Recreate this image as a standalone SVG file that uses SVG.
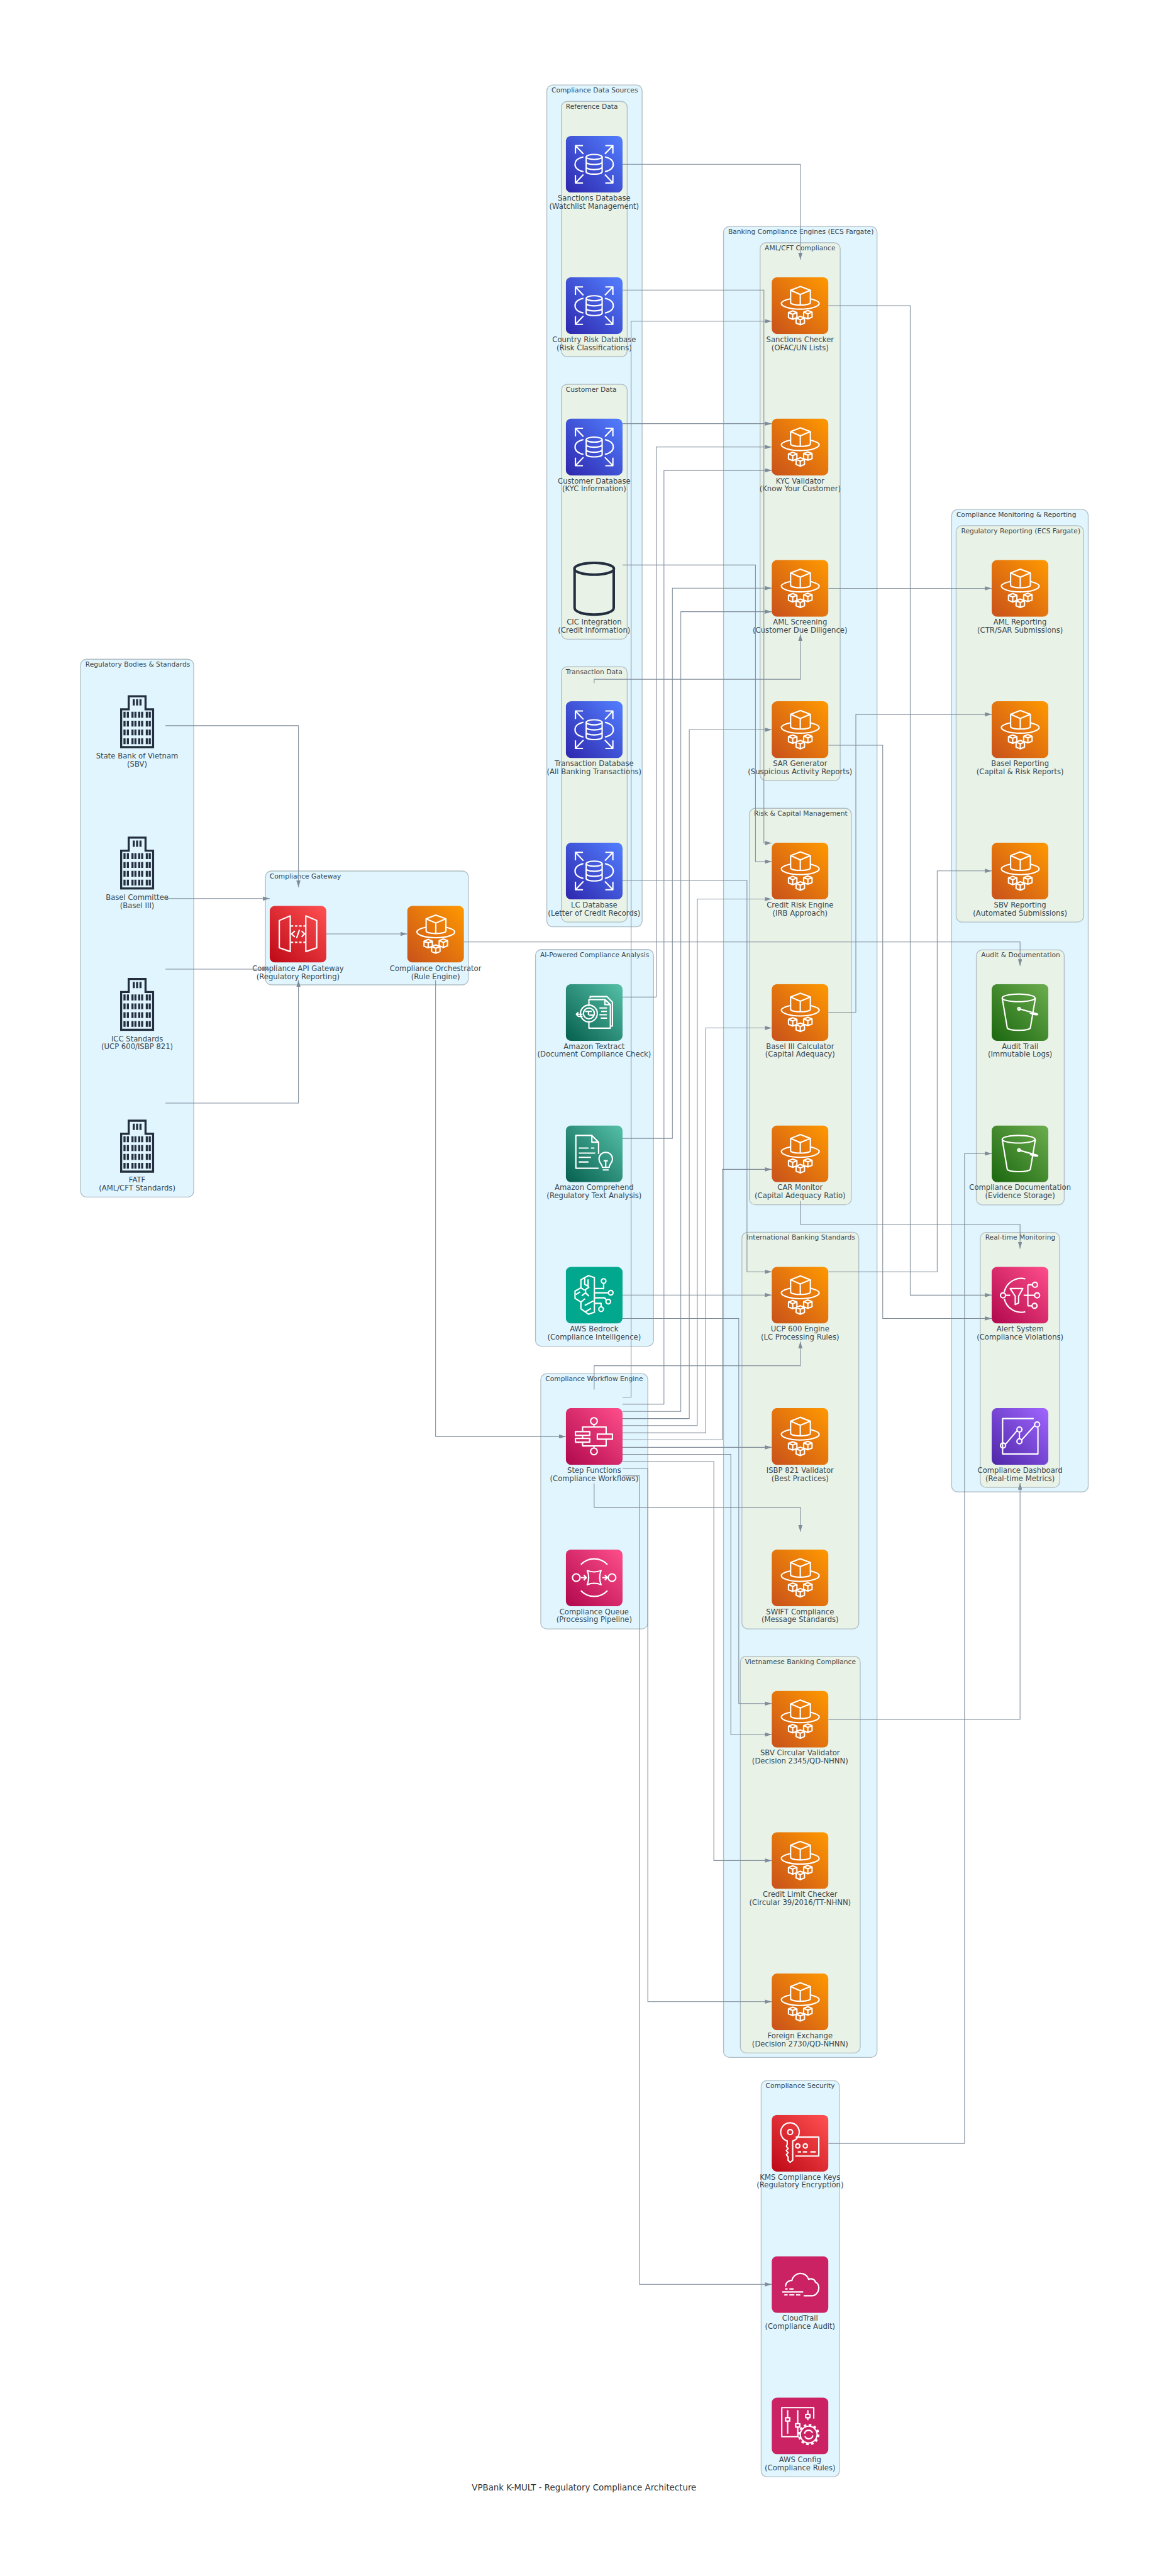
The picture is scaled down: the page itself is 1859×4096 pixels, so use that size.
<svg xmlns="http://www.w3.org/2000/svg" width="1859" height="4096" viewBox="0 0 1859 4096">
<style>
text{font-family:"DejaVu Sans","Liberation Sans",sans-serif;fill:#37474f}
.l{font-size:17.4px;text-anchor:middle}
.c{font-size:16px}
.g{fill:#e1f5fe;stroke:#b0bec5;stroke-width:2}
.s{fill:#e9f2e7;stroke:#b0bec5;stroke-width:2}
.e{fill:none;stroke:#7f8c99;stroke-width:1.6;marker-end:url(#a)}
.w{fill:none;stroke:#fff;stroke-width:3.2;stroke-linejoin:round}
.d{fill:none;stroke:#232f3e;stroke-width:5}
</style>
<defs>
<marker id="a" markerUnits="userSpaceOnUse" markerWidth="16" markerHeight="10" refX="16" refY="5" orient="auto"><path d="M0 0L16 5L0 10z" fill="#7f8c99"/></marker>
<linearGradient id="go" x1="0" y1="1" x2="1" y2="0"><stop offset="0" stop-color="#c8511b"/><stop offset="1" stop-color="#f90"/></linearGradient>
<linearGradient id="gb" x1="0" y1="1" x2="1" y2="0"><stop offset="0" stop-color="#2e27ad"/><stop offset="1" stop-color="#527fff"/></linearGradient>
<linearGradient id="gr" x1="0" y1="1" x2="1" y2="0"><stop offset="0" stop-color="#bd0816"/><stop offset="1" stop-color="#ff5252"/></linearGradient>
<linearGradient id="gt" x1="0" y1="1" x2="1" y2="0"><stop offset="0" stop-color="#055f4e"/><stop offset="1" stop-color="#56c0a7"/></linearGradient>
<linearGradient id="gp" x1="0" y1="1" x2="1" y2="0"><stop offset="0" stop-color="#b0084d"/><stop offset="1" stop-color="#ff4f8b"/></linearGradient>
<linearGradient id="gg" x1="0" y1="1" x2="1" y2="0"><stop offset="0" stop-color="#1b660f"/><stop offset="1" stop-color="#6cae4e"/></linearGradient>
<linearGradient id="gv" x1="0" y1="1" x2="1" y2="0"><stop offset="0" stop-color="#4d27a8"/><stop offset="1" stop-color="#a166ff"/></linearGradient>
<path id="mini" d="M0 -10L10 -6V6L0 10L-10 6V-6zM-10 -6L0 -2L10 -6M0 -2V10"/>
<symbol id="fargate" viewBox="0 0 135 135"><rect width="135" height="135" rx="13" fill="url(#go)"/><g class="w"><path d="M68 22L92 31V60C92 68 45 68 45 60V31zM45 31L68 41L92 31M68 41V66"/><path d="M45 51C32 54 23 58 23 62C23 70 44 76 68 76S113 70 113 62C113 58 104 54 92 51"/><use href="#mini" x="50" y="90"/><use href="#mini" x="86" y="89"/><use href="#mini" x="68" y="103"/></g></symbol>
<symbol id="rds" viewBox="0 0 135 135"><rect width="135" height="135" rx="13" fill="url(#gb)"/><g class="w"><path d="M23 42V23H41M23 23L42 43M112 42V23H94M112 23L93 43M23 93V112H41M23 112L42 92M112 93V112H94M112 112L93 92"/><path d="M42 50C28 53 22 60 22 67.500S28 82 42 85M93 50C107 53 113 60 113 67.500S107 82 93 85"/><ellipse cx="67.500" cy="50" rx="19" ry="6"/><path d="M48.500 50V85C48.500 93 86.500 93 86.500 85V50M48.500 62C48.500 70 86.500 70 86.500 62M48.500 74C48.500 82 86.500 82 86.500 74"/></g></symbol>
<symbol id="apigw" viewBox="0 0 135 135"><rect width="135" height="135" rx="13" fill="url(#gr)"/><g class="w"><path d="M23 35L49 24V109L23 100zM112 35L86 24V109L112 100z"/><path d="M50 48H86M50 87H86" stroke-dasharray="6 4"/><path d="M60 60L52 67L60 74M76 60L83 67L76 74M71 57L64 77"/></g></symbol>
<symbol id="building" viewBox="0 0 82 127"><path class="d" d="M3 34H21V3H61V34H79V124H3z"/><g class="d"><path d="M33 10v15M41 10v15M49 10v15"/><path d="M11 40v14M19 40v14M30 40v14M37 40v14M46 40v14M53 40v14M64 40v14M71 40v14"/><path d="M11 61v14M19 61v14M30 61v14M37 61v14M46 61v14M53 61v14M64 61v14M71 61v14"/><path d="M11 82v14M19 82v14M30 82v14M37 82v14M46 82v14M53 82v14M64 82v14M71 82v14"/><path d="M11 103v14M19 103v14M30 103v14M37 103v14M46 103v14M53 103v14M64 103v14M71 103v14"/></g></symbol>
<symbol id="textract" viewBox="0 0 135 135"><rect width="135" height="135" rx="13" fill="url(#gt)"/><g class="w"><path d="M58 34V30H98L111 43V100H105"/><path d="M55 52V37H93L106 49V105H55V88M93 37V49H106"/><circle cx="55" cy="70" r="20"/><circle cx="55" cy="70" r="13"/><path d="M46 65H62M54 65V74M56 74H68M80 57H98M84 65H98M80 73H98M83 81H98M26 72H40M30 77H40M30 67L25 72L30 77"/></g></symbol>
<symbol id="comprehend" viewBox="0 0 135 135"><rect width="135" height="135" rx="13" fill="url(#gt)"/><g class="w"><path d="M78 68V40L62 24H24V102H78M62 24V40H78M31 54H54M60 54H68M31 66H70M31 76H60M31 87H54"/><path d="M87 100C87 92 79 90 79 80C79 71 86 64 95 64S111 71 111 80C111 90 103 92 103 100zM88 106H102M95 100V84M90 84H100"/></g></symbol>
<symbol id="bedrock" viewBox="0 0 135 135"><rect width="135" height="135" rx="13" fill="#01a88d"/><g class="w"><path d="M54 21L68 26V108L54 113L36 100V84L22 75V58L36 50V31zM45 26V42L53 46V30M36 50L45 56M24 66L34 60M38 69L47 62L55 70M47 62V54L56 48M36 84L46 76M45 92L68 80M47 107L60 99"/><circle cx="90" cy="34" r="5.500"/><circle cx="107" cy="62" r="5.500"/><circle cx="101" cy="83" r="5.500"/><circle cx="84" cy="101" r="5.500"/><path d="M68 52H90V40M68 62H101M68 74H90C93 74 95 76 96 79M68 87H84V95"/></g></symbol>
<symbol id="step" viewBox="0 0 135 135"><rect width="135" height="135" rx="13" fill="url(#gp)"/><g class="w"><circle cx="67" cy="31" r="8"/><circle cx="67" cy="103" r="8"/><rect x="23" y="56" width="34" height="9"/><rect x="23" y="72" width="34" height="9"/><rect x="75" y="62" width="36" height="12"/><path d="M40 56V45H96V62M40 81V90H96V74M67 39V45M67 90V95M40 65V72"/></g></symbol>
<symbol id="sqs" viewBox="0 0 135 135"><rect width="135" height="135" rx="13" fill="url(#gp)"/><g class="w"><circle cx="25" cy="67" r="9"/><circle cx="110" cy="67" r="9"/><path d="M36 36A43 43 0 0 1 99 36M36 98A43 43 0 0 0 99 98"/><path d="M51 50Q67.500 57 84 50Q77 67 84 84Q67.500 77 51 84Q58 67 51 50z"/><path d="M36 67H48M43 61L49 67L43 73M87 67H99M93 61L99 67L93 73"/></g></symbol>
<symbol id="s3" viewBox="0 0 135 135"><rect width="135" height="135" rx="13" fill="url(#gg)"/><g class="w"><ellipse cx="64" cy="33" rx="39" ry="9"/><path d="M25 33L37 104C38 112 91 112 92 104L104 33"/><circle cx="65" cy="59" r="3"/><path d="M65 59L108 71C114 74 100 74 91 69"/></g></symbol>
<symbol id="sns" viewBox="0 0 135 135"><rect width="135" height="135" rx="13" fill="url(#gp)"/><g class="w"><path d="M80 29A41 41 0 0 0 30 60M30 76A41 41 0 0 0 80 107"/><circle cx="27" cy="68" r="6"/><circle cx="103" cy="43" r="6"/><circle cx="108" cy="68" r="6"/><circle cx="102" cy="93" r="6"/><path d="M33 68H44M76 68H101M86 43V93M86 43H97M86 93H96"/><path d="M44 52H74L64 70V86L56 90V70z"/></g></symbol>
<symbol id="quicksight" viewBox="0 0 135 135"><rect width="135" height="135" rx="13" fill="url(#gv)"/><g class="w"><path d="M100 25H26V109H110V46"/><circle cx="27" cy="89" r="6"/><circle cx="66" cy="51" r="6"/><circle cx="66" cy="79" r="6"/><circle cx="108" cy="39" r="6"/><path d="M33 86L60 54M66 57V73M71 76L102 42" stroke-width="3"/></g></symbol>
<symbol id="kms" viewBox="0 0 135 135"><rect width="135" height="135" rx="13" fill="url(#gr)"/><g class="w"><circle cx="44" cy="41" r="6"/><path d="M37 62A22 22 0 1 1 50 62V108L44 113L39 108V100L35 95L39 90L35 85L39 80L35 75L37 70z"/><path d="M57 53H112V98H56M62 88H70M74 88H84M92 88H105"/><circle cx="62" cy="74" r="5"/><circle cx="80" cy="74" r="5"/></g></symbol>
<symbol id="cloudtrail" viewBox="0 0 135 135"><rect width="135" height="135" rx="13" fill="#cb2264"/><g class="w"><path d="M33 72C33 62 42 57 48 58C50 47 60 41 68 41C78 41 85 47 88 55C94 52 103 55 104 62C110 64 112 70 112 75C112 85 105 94 96 94H76"/><path d="M32 78H38M42 78H52M25 85H75M30 92H38M42 92H54M58 92H68"/></g></symbol>
<symbol id="config" viewBox="0 0 135 135"><rect width="135" height="135" rx="13" fill="#cb2264"/><g class="w"><path d="M65 93H24V24H100V50"/><path d="M38 30V48M38 56V86M62 30V62M62 70V92M86 30V40M86 48V54"/><rect x="33" y="48" width="10" height="8"/><rect x="57" y="62" width="10" height="8"/><rect x="81" y="40" width="10" height="8"/><circle cx="88" cy="88" r="20"/><circle cx="88" cy="88" r="23" stroke-width="5" stroke-dasharray="6 6"/><path d="M78 86A10 10 0 0 1 97 84M98 90A10 10 0 0 1 79 92"/></g></symbol>
</defs>
<g transform="scale(0.66893)">
<g id="clusters">
<g id="cluster-regulatory"><rect class="g" x="191.500" y="1567" width="269" height="1278.500" rx="14"/><text class="c" x="203" y="1585">Regulatory Bodies &amp; Standards</text></g>
<g id="cluster-gateway"><rect class="g" x="631" y="2070.500" width="482.500" height="270.500" rx="14"/><text class="c" x="641" y="2089">Compliance Gateway</text></g>
<g id="cluster-data"><rect class="g" x="1300" y="202" width="226.500" height="2001" rx="14"/><text class="c" x="1311" y="220">Compliance Data Sources</text></g>
<g id="cluster-reference"><rect class="s" x="1334.500" y="241" width="156.500" height="607" rx="14"/><text class="c" x="1345" y="259">Reference Data</text></g>
<g id="cluster-customer"><rect class="s" x="1334.500" y="913.500" width="156.500" height="606" rx="14"/><text class="c" x="1345" y="931">Customer Data</text></g>
<g id="cluster-transaction"><rect class="s" x="1334.500" y="1584.700" width="156.500" height="607" rx="14"/><text class="c" x="1345" y="1602.500">Transaction Data</text></g>
<g id="cluster-ai"><rect class="g" x="1273" y="2257" width="280.700" height="943" rx="14"/><text class="c" x="1284" y="2275">AI-Powered Compliance Analysis</text></g>
<g id="cluster-workflow"><rect class="g" x="1285.600" y="3265" width="254.400" height="607" rx="14"/><text class="c" x="1296.500" y="3283">Compliance Workflow Engine</text></g>
<g id="cluster-engines"><rect class="g" x="1720" y="538.400" width="365" height="4352" rx="14"/><text class="c" x="1731" y="556">Banking Compliance Engines (ECS Fargate)</text></g>
<g id="cluster-aml"><rect class="s" x="1807" y="577" width="190.400" height="1278.700" rx="14"/><text class="c" x="1818" y="594.500">AML/CFT Compliance</text></g>
<g id="cluster-risk"><rect class="s" x="1781.600" y="1921.400" width="242.200" height="942.300" rx="14"/><text class="c" x="1792.500" y="1939">Risk &amp; Capital Management</text></g>
<g id="cluster-intl"><rect class="s" x="1763.800" y="2929" width="277.800" height="943" rx="14"/><text class="c" x="1775" y="2947">International Banking Standards</text></g>
<g id="cluster-vn"><rect class="s" x="1760" y="3937" width="285" height="943" rx="14"/><text class="c" x="1771" y="3955">Vietnamese Banking Compliance</text></g>
<g id="cluster-monitoring"><rect class="g" x="2262.400" y="1211" width="324.600" height="2335.400" rx="14"/><text class="c" x="2273.600" y="1229">Compliance Monitoring &amp; Reporting</text></g>
<g id="cluster-reporting"><rect class="s" x="2273" y="1249.600" width="303" height="942.100" rx="14"/><text class="c" x="2285" y="1267">Regulatory Reporting (ECS Fargate)</text></g>
<g id="cluster-audit"><rect class="s" x="2321" y="2258" width="209" height="606" rx="14"/><text class="c" x="2332.500" y="2275">Audit &amp; Documentation</text></g>
<g id="cluster-realtime"><rect class="s" x="2330.400" y="2929.500" width="188.600" height="606.200" rx="14"/><text class="c" x="2342" y="2947">Real-time Monitoring</text></g>
<g id="cluster-security"><rect class="g" x="1809.500" y="4945.400" width="185.900" height="942.100" rx="14"/><text class="c" x="1820" y="4963">Compliance Security</text></g>
</g>
<g id="nodes">
<g id="n-sbv"><use href="#building" x="285" y="1652" width="82" height="127"/><text class="l"><tspan x="326" y="1803">State Bank of Vietnam</tspan><tspan x="326" y="1822">(SBV)</tspan></text></g>
<g id="n-basel"><use href="#building" x="285" y="1988" width="82" height="127"/><text class="l"><tspan x="326" y="2139">Basel Committee</tspan><tspan x="326" y="2158">(Basel III)</tspan></text></g>
<g id="n-icc"><use href="#building" x="285" y="2324" width="82" height="127"/><text class="l"><tspan x="326" y="2475">ICC Standards</tspan><tspan x="326" y="2494">(UCP 600/ISBP 821)</tspan></text></g>
<g id="n-fatf"><use href="#building" x="285" y="2661" width="82" height="127"/><text class="l"><tspan x="326" y="2811">FATF</tspan><tspan x="326" y="2830">(AML/CFT Standards)</tspan></text></g>
<g id="n-apigw"><use href="#apigw" x="641" y="2153" width="135" height="135"/><text class="l"><tspan x="708.500" y="2308">Compliance API Gateway</tspan><tspan x="708.500" y="2327">(Regulatory Reporting)</tspan></text></g>
<g id="n-orch"><use href="#fargate" x="968" y="2153" width="135" height="135"/><text class="l"><tspan x="1035.500" y="2308">Compliance Orchestrator</tspan><tspan x="1035.500" y="2327">(Rule Engine)</tspan></text></g>
<g id="n-sanctions-db"><use href="#rds" x="1345" y="323" width="135" height="135"/><text class="l"><tspan x="1412.500" y="477">Sanctions Database</tspan><tspan x="1412.500" y="496">(Watchlist Management)</tspan></text></g>
<g id="n-country-db"><use href="#rds" x="1345" y="659" width="135" height="135"/><text class="l"><tspan x="1412.500" y="813">Country Risk Database</tspan><tspan x="1412.500" y="832">(Risk Classifications)</tspan></text></g>
<g id="n-customer-db"><use href="#rds" x="1345" y="995" width="135" height="135"/><text class="l"><tspan x="1412.500" y="1149">Customer Database</tspan><tspan x="1412.500" y="1168">(KYC Information)</tspan></text></g>
<g id="n-cic"><path d="M1366 1352V1445C1366 1466 1459 1466 1459 1445V1352" fill="none" stroke="#232f3e" stroke-width="6"/><ellipse cx="1412.500" cy="1352" rx="47" ry="14" fill="none" stroke="#232f3e" stroke-width="6"/><text class="l"><tspan x="1412.500" y="1485">CIC Integration</tspan><tspan x="1412.500" y="1504">(Credit Information)</tspan></text></g>
<g id="n-tx-db"><use href="#rds" x="1345" y="1667" width="135" height="135"/><text class="l"><tspan x="1412.500" y="1821">Transaction Database</tspan><tspan x="1412.500" y="1840">(All Banking Transactions)</tspan></text></g>
<g id="n-lc-db"><use href="#rds" x="1345" y="2003" width="135" height="135"/><text class="l"><tspan x="1412.500" y="2157">LC Database</tspan><tspan x="1412.500" y="2176">(Letter of Credit Records)</tspan></text></g>
<g id="n-textract"><use href="#textract" x="1345" y="2339" width="135" height="135"/><text class="l"><tspan x="1412.500" y="2493">Amazon Textract</tspan><tspan x="1412.500" y="2512">(Document Compliance Check)</tspan></text></g>
<g id="n-comprehend"><use href="#comprehend" x="1345" y="2675" width="135" height="135"/><text class="l"><tspan x="1412.500" y="2829">Amazon Comprehend</tspan><tspan x="1412.500" y="2848">(Regulatory Text Analysis)</tspan></text></g>
<g id="n-bedrock"><use href="#bedrock" x="1345" y="3011" width="135" height="135"/><text class="l"><tspan x="1412.500" y="3165">AWS Bedrock</tspan><tspan x="1412.500" y="3184">(Compliance Intelligence)</tspan></text></g>
<g id="n-step"><use href="#step" x="1345" y="3347" width="135" height="135"/><text class="l"><tspan x="1412.500" y="3501">Step Functions</tspan><tspan x="1412.500" y="3520">(Compliance Workflows)</tspan></text></g>
<g id="n-queue"><use href="#sqs" x="1345" y="3683" width="135" height="135"/><text class="l"><tspan x="1412.500" y="3837">Compliance Queue</tspan><tspan x="1412.500" y="3856">(Processing Pipeline)</tspan></text></g>
<g id="n-sanctions"><use href="#fargate" x="1834.500" y="659" width="135" height="135"/><text class="l"><tspan x="1902" y="813">Sanctions Checker</tspan><tspan x="1902" y="832">(OFAC/UN Lists)</tspan></text></g>
<g id="n-kyc"><use href="#fargate" x="1834.500" y="995" width="135" height="135"/><text class="l"><tspan x="1902" y="1149">KYC Validator</tspan><tspan x="1902" y="1168">(Know Your Customer)</tspan></text></g>
<g id="n-aml"><use href="#fargate" x="1834.500" y="1331" width="135" height="135"/><text class="l"><tspan x="1902" y="1485">AML Screening</tspan><tspan x="1902" y="1504">(Customer Due Diligence)</tspan></text></g>
<g id="n-sar"><use href="#fargate" x="1834.500" y="1667" width="135" height="135"/><text class="l"><tspan x="1902" y="1821">SAR Generator</tspan><tspan x="1902" y="1840">(Suspicious Activity Reports)</tspan></text></g>
<g id="n-credit"><use href="#fargate" x="1834.500" y="2003" width="135" height="135"/><text class="l"><tspan x="1902" y="2157">Credit Risk Engine</tspan><tspan x="1902" y="2176">(IRB Approach)</tspan></text></g>
<g id="n-basel3"><use href="#fargate" x="1834.500" y="2339" width="135" height="135"/><text class="l"><tspan x="1902" y="2493">Basel III Calculator</tspan><tspan x="1902" y="2512">(Capital Adequacy)</tspan></text></g>
<g id="n-car"><use href="#fargate" x="1834.500" y="2675" width="135" height="135"/><text class="l"><tspan x="1902" y="2829">CAR Monitor</tspan><tspan x="1902" y="2848">(Capital Adequacy Ratio)</tspan></text></g>
<g id="n-ucp"><use href="#fargate" x="1834.500" y="3011" width="135" height="135"/><text class="l"><tspan x="1902" y="3165">UCP 600 Engine</tspan><tspan x="1902" y="3184">(LC Processing Rules)</tspan></text></g>
<g id="n-isbp"><use href="#fargate" x="1834.500" y="3347" width="135" height="135"/><text class="l"><tspan x="1902" y="3501">ISBP 821 Validator</tspan><tspan x="1902" y="3520">(Best Practices)</tspan></text></g>
<g id="n-swift"><use href="#fargate" x="1834.500" y="3683" width="135" height="135"/><text class="l"><tspan x="1902" y="3837">SWIFT Compliance</tspan><tspan x="1902" y="3856">(Message Standards)</tspan></text></g>
<g id="n-sbvc"><use href="#fargate" x="1834.500" y="4019" width="135" height="135"/><text class="l"><tspan x="1902" y="4173">SBV Circular Validator</tspan><tspan x="1902" y="4192">(Decision 2345/QD-NHNN)</tspan></text></g>
<g id="n-limit"><use href="#fargate" x="1834.500" y="4355" width="135" height="135"/><text class="l"><tspan x="1902" y="4509">Credit Limit Checker</tspan><tspan x="1902" y="4528">(Circular 39/2016/TT-NHNN)</tspan></text></g>
<g id="n-fx"><use href="#fargate" x="1834.500" y="4691" width="135" height="135"/><text class="l"><tspan x="1902" y="4845">Foreign Exchange</tspan><tspan x="1902" y="4864">(Decision 2730/QD-NHNN)</tspan></text></g>
<g id="n-amlr"><use href="#fargate" x="2357.500" y="1331" width="135" height="135"/><text class="l"><tspan x="2425" y="1485">AML Reporting</tspan><tspan x="2425" y="1504">(CTR/SAR Submissions)</tspan></text></g>
<g id="n-baselr"><use href="#fargate" x="2357.500" y="1667" width="135" height="135"/><text class="l"><tspan x="2425" y="1821">Basel Reporting</tspan><tspan x="2425" y="1840">(Capital &amp; Risk Reports)</tspan></text></g>
<g id="n-sbvr"><use href="#fargate" x="2357.500" y="2003" width="135" height="135"/><text class="l"><tspan x="2425" y="2157">SBV Reporting</tspan><tspan x="2425" y="2176">(Automated Submissions)</tspan></text></g>
<g id="n-audit"><use href="#s3" x="2357.500" y="2339" width="135" height="135"/><text class="l"><tspan x="2425" y="2493">Audit Trail</tspan><tspan x="2425" y="2512">(Immutable Logs)</tspan></text></g>
<g id="n-docs"><use href="#s3" x="2357.500" y="2675" width="135" height="135"/><text class="l"><tspan x="2425" y="2829">Compliance Documentation</tspan><tspan x="2425" y="2848">(Evidence Storage)</tspan></text></g>
<g id="n-alert"><use href="#sns" x="2357.500" y="3011" width="135" height="135"/><text class="l"><tspan x="2425" y="3165">Alert System</tspan><tspan x="2425" y="3184">(Compliance Violations)</tspan></text></g>
<g id="n-dash"><use href="#quicksight" x="2357.500" y="3347" width="135" height="135"/><text class="l"><tspan x="2425" y="3501">Compliance Dashboard</tspan><tspan x="2425" y="3520">(Real-time Metrics)</tspan></text></g>
<g id="n-kms"><use href="#kms" x="1834.500" y="5027" width="135" height="135"/><text class="l"><tspan x="1902" y="5181">KMS Compliance Keys</tspan><tspan x="1902" y="5200">(Regulatory Encryption)</tspan></text></g>
<g id="n-cloudtrail"><use href="#cloudtrail" x="1834.500" y="5363" width="135" height="135"/><text class="l"><tspan x="1902" y="5517">CloudTrail</tspan><tspan x="1902" y="5536">(Compliance Audit)</tspan></text></g>
<g id="n-config"><use href="#config" x="1834.500" y="5699" width="135" height="135"/><text class="l"><tspan x="1902" y="5853">AWS Config</tspan><tspan x="1902" y="5872">(Compliance Rules)</tspan></text></g>
</g>
<g id="connectors">
<path class="e" d="M393.500 1725H709.500V2109"/>
<path class="e" d="M393.500 2136H641"/>
<path class="e" d="M393.500 2303.600H641"/>
<path class="e" d="M393.500 2622H709.500V2330"/>
<path class="e" d="M776 2220H968"/>
<path class="e" d="M1103 2239H2425V2296"/>
<path class="e" d="M1035.500 2330V3414.600H1345"/>
<path class="e" d="M1480 390.500H1902.700V617"/>
<path class="e" d="M1480 689.600H1816V2004H1834.500"/>
<path class="e" d="M1480 3321H1500.300V763.500H1834.500"/>
<path class="e" d="M1480 1007H1834.500"/>
<path class="e" d="M1480 2370H1560V1062.600H1834.500"/>
<path class="e" d="M1480 3337.600H1578.400V1118H1834.500"/>
<path class="e" d="M1480 1343H1796V2048H1834.500"/>
<path class="e" d="M1480 2706H1598.500V1398H1834.500"/>
<path class="e" d="M1480 3355H1618.500V1454H1834.500"/>
<path class="e" d="M1412.500 1624V1614.700H1902.700V1508"/>
<path class="e" d="M1480 3372H1638.600V1734.600H1834.500"/>
<path class="e" d="M1480 2092.800H1775.800V3023H1834.500"/>
<path class="e" d="M1480 3388.700H1657.600V2137H1834.500"/>
<path class="e" d="M1480 3406H1677.700V2443.500H1834.500"/>
<path class="e" d="M1480 3422.600H1717.300V2779.600H1834.500"/>
<path class="e" d="M1480 3078.400H1834.500"/>
<path class="e" d="M1480 3134H1756.300V4049.400H1834.500"/>
<path class="e" d="M1480 3440.400H1834.500"/>
<path class="e" d="M1480 3457H1737.400V4123H1834.500"/>
<path class="e" d="M1480 3474.300H1697V4422.600H1834.500"/>
<path class="e" d="M1480 3491H1540V4758H1834.500"/>
<path class="e" d="M1480 3508H1520V5430H1834.500"/>
<path class="e" d="M1412.500 3303V3246.400H1902.700V3189"/>
<path class="e" d="M1412.500 3526V3582.800H1902.700V3641"/>
<path class="e" d="M1969.500 726.600H2163.800V3078.600H2357.500"/>
<path class="e" d="M1969.500 1398.500H2357.500"/>
<path class="e" d="M1969.500 1771.600H2098.500V3134H2357.500"/>
<path class="e" d="M1969.500 2406H2034.600V1698H2357.500"/>
<path class="e" d="M1902.700 2854.600V2910.700H2425V2968"/>
<path class="e" d="M1969.500 3023H2228V2070H2357.500"/>
<path class="e" d="M1969.500 5095H2293V2742H2357.500"/>
<path class="e" d="M1969.500 4086.600H2425V3525"/>
</g>
<text id="title" x="1388.500" y="5920" style="font-size:20px;text-anchor:middle;fill:#333">VPBank K-MULT - Regulatory Compliance Architecture</text>
</g>
</svg>
